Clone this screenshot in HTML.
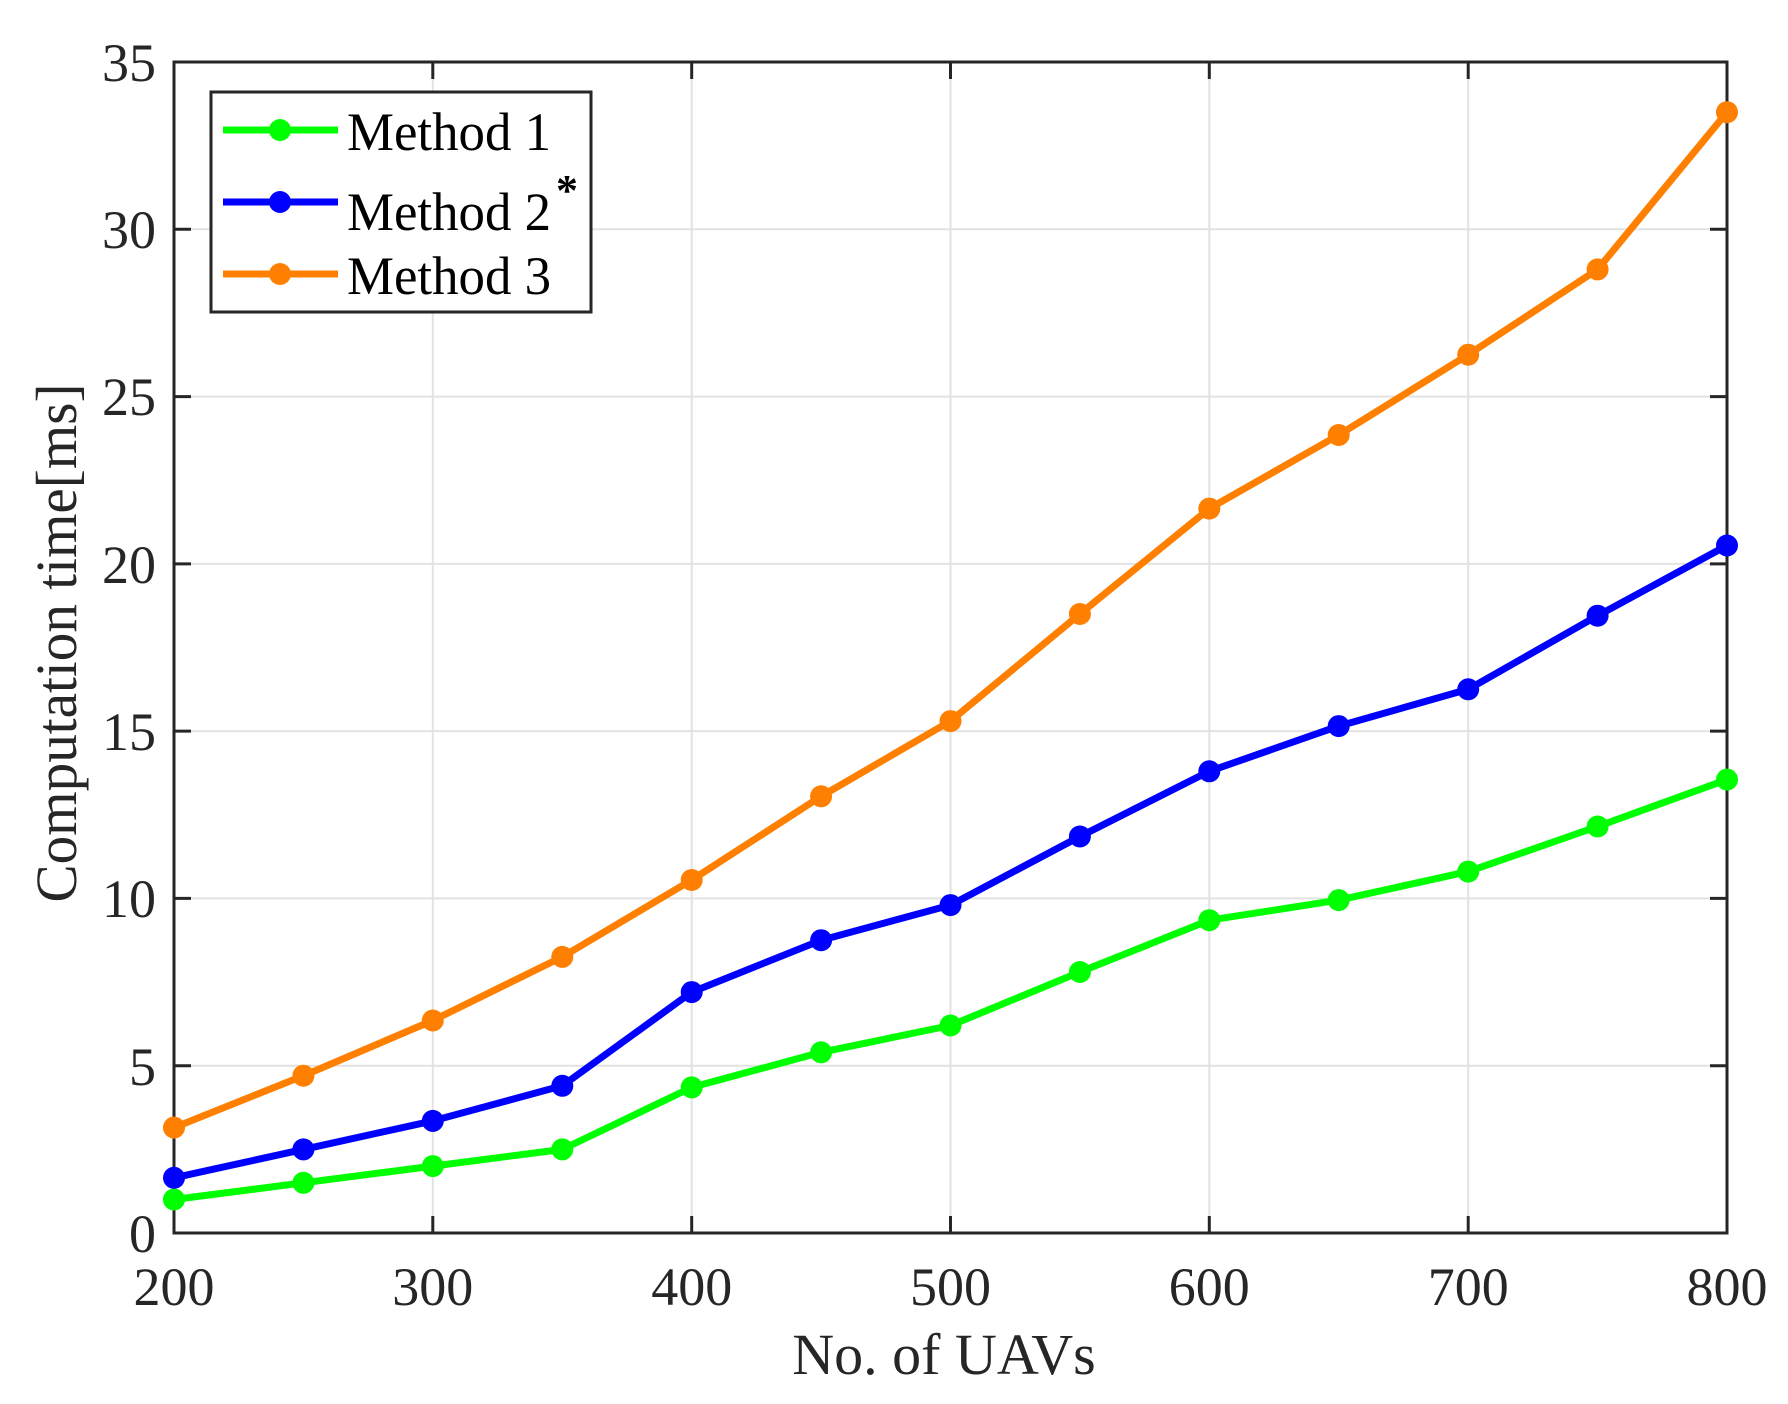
<!DOCTYPE html>
<html><head><meta charset="utf-8"><style>
html,body{margin:0;padding:0;background:#fff;}
svg{display:block;}
text{font-family:"Liberation Serif",serif;fill:#262626;}
</style></head><body>
<svg width="1788" height="1404" viewBox="0 0 1788 1404" xmlns="http://www.w3.org/2000/svg">
<rect width="1788" height="1404" fill="#fff"/>
<g stroke="#e2e2e2" stroke-width="2">
<line x1="432.8" y1="62" x2="432.8" y2="1233"/>
<line x1="691.7" y1="62" x2="691.7" y2="1233"/>
<line x1="950.5" y1="62" x2="950.5" y2="1233"/>
<line x1="1209.3" y1="62" x2="1209.3" y2="1233"/>
<line x1="1468.2" y1="62" x2="1468.2" y2="1233"/>
<line x1="174" y1="1065.7" x2="1727" y2="1065.7"/>
<line x1="174" y1="898.4" x2="1727" y2="898.4"/>
<line x1="174" y1="731.1" x2="1727" y2="731.1"/>
<line x1="174" y1="563.9" x2="1727" y2="563.9"/>
<line x1="174" y1="396.6" x2="1727" y2="396.6"/>
<line x1="174" y1="229.3" x2="1727" y2="229.3"/>
</g>
<g stroke="#262626" stroke-width="3">
<rect x="174" y="62" width="1553" height="1171" fill="none"/>
<path d="M432.8 1233v-17M691.7 1233v-17M950.5 1233v-17M1209.3 1233v-17M1468.2 1233v-17M432.8 62v17M691.7 62v17M950.5 62v17M1209.3 62v17M1468.2 62v17
M174 1065.7h17M174 898.4h17M174 731.1h17M174 563.9h17M174 396.6h17M174 229.3h17
M1727 1065.7h-17M1727 898.4h-17M1727 731.1h-17M1727 563.9h-17M1727 396.6h-17M1727 229.3h-17"/>
</g>
<g font-size="54" text-anchor="end">
<text x="156" y="1252">0</text>
<text x="156" y="1085">5</text>
<text x="156" y="917">10</text>
<text x="156" y="750">15</text>
<text x="156" y="583">20</text>
<text x="156" y="415">25</text>
<text x="156" y="248">30</text>
<text x="156" y="81">35</text>
</g>
<g font-size="54" text-anchor="middle">
<text x="174" y="1305">200</text>
<text x="432.8" y="1305">300</text>
<text x="691.7" y="1305">400</text>
<text x="950.5" y="1305">500</text>
<text x="1209.3" y="1305">600</text>
<text x="1468.2" y="1305">700</text>
<text x="1727" y="1305">800</text>
</g>
<text x="944" y="1374" font-size="58" text-anchor="middle">No. of UAVs</text>
<text transform="translate(76,643) rotate(-90)" font-size="58" text-anchor="middle" textLength="519" lengthAdjust="spacingAndGlyphs">Computation time[ms]</text>
<g fill="none" stroke-width="7" stroke-linejoin="round">
<polyline stroke="#00ff00" points="174,1199.5 303.4,1182.8 432.8,1166.1 562.3,1149.4 691.7,1087.4 821.1,1052.3 950.5,1025.5 1079.9,972 1209.3,920.2 1338.7,900.1 1468.2,871.6 1597.6,826.5 1727,779.6"/>
<polyline stroke="#0000ff" points="174,1177.8 303.4,1149.4 432.8,1120.9 562.3,1085.8 691.7,992.1 821.1,940.2 950.5,905.1 1079.9,836.5 1209.3,771.3 1338.7,726.1 1468.2,689.3 1597.6,615.7 1727,545.5"/>
<polyline stroke="#ff8000" points="174,1127.6 303.4,1075.7 432.8,1020.5 562.3,956.9 691.7,880 821.1,796.3 950.5,721.1 1079.9,614 1209.3,508.6 1338.7,435 1468.2,354.7 1597.6,269.4 1727,112.2"/>
</g>
<g fill="#00ff00">
<circle cx="174" cy="1199.5" r="11"/><circle cx="303.4" cy="1182.8" r="11"/><circle cx="432.8" cy="1166.1" r="11"/><circle cx="562.3" cy="1149.4" r="11"/><circle cx="691.7" cy="1087.4" r="11"/><circle cx="821.1" cy="1052.3" r="11"/><circle cx="950.5" cy="1025.5" r="11"/><circle cx="1079.9" cy="972" r="11"/><circle cx="1209.3" cy="920.2" r="11"/><circle cx="1338.7" cy="900.1" r="11"/><circle cx="1468.2" cy="871.6" r="11"/><circle cx="1597.6" cy="826.5" r="11"/><circle cx="1727" cy="779.6" r="11"/>
</g>
<g fill="#0000ff">
<circle cx="174" cy="1177.8" r="11"/><circle cx="303.4" cy="1149.4" r="11"/><circle cx="432.8" cy="1120.9" r="11"/><circle cx="562.3" cy="1085.8" r="11"/><circle cx="691.7" cy="992.1" r="11"/><circle cx="821.1" cy="940.2" r="11"/><circle cx="950.5" cy="905.1" r="11"/><circle cx="1079.9" cy="836.5" r="11"/><circle cx="1209.3" cy="771.3" r="11"/><circle cx="1338.7" cy="726.1" r="11"/><circle cx="1468.2" cy="689.3" r="11"/><circle cx="1597.6" cy="615.7" r="11"/><circle cx="1727" cy="545.5" r="11"/>
</g>
<g fill="#ff8000">
<circle cx="174" cy="1127.6" r="11"/><circle cx="303.4" cy="1075.7" r="11"/><circle cx="432.8" cy="1020.5" r="11"/><circle cx="562.3" cy="956.9" r="11"/><circle cx="691.7" cy="880" r="11"/><circle cx="821.1" cy="796.3" r="11"/><circle cx="950.5" cy="721.1" r="11"/><circle cx="1079.9" cy="614" r="11"/><circle cx="1209.3" cy="508.6" r="11"/><circle cx="1338.7" cy="435" r="11"/><circle cx="1468.2" cy="354.7" r="11"/><circle cx="1597.6" cy="269.4" r="11"/><circle cx="1727" cy="112.2" r="11"/>
</g>
<rect x="211" y="92" width="380" height="220" fill="#fff" stroke="#262626" stroke-width="3"/>
<g stroke-width="7">
<line x1="223" y1="130" x2="338" y2="130" stroke="#00ff00"/>
<line x1="223" y1="202" x2="338" y2="202" stroke="#0000ff"/>
<line x1="223" y1="274" x2="338" y2="274" stroke="#ff8000"/>
</g>
<circle cx="280" cy="130" r="11" fill="#00ff00"/>
<circle cx="280" cy="202" r="11" fill="#0000ff"/>
<circle cx="280" cy="274" r="11" fill="#ff8000"/>
<text x="347" y="150" font-size="54" style="fill:#000" textLength="204" lengthAdjust="spacingAndGlyphs">Method 1</text>
<text x="347" y="230" font-size="54" style="fill:#000" textLength="204" lengthAdjust="spacingAndGlyphs">Method 2</text>
<text x="556" y="205" font-size="44" font-weight="bold" style="fill:#000">*</text>
<text x="347" y="294" font-size="54" style="fill:#000" textLength="204" lengthAdjust="spacingAndGlyphs">Method 3</text>
</svg>
</body></html>
